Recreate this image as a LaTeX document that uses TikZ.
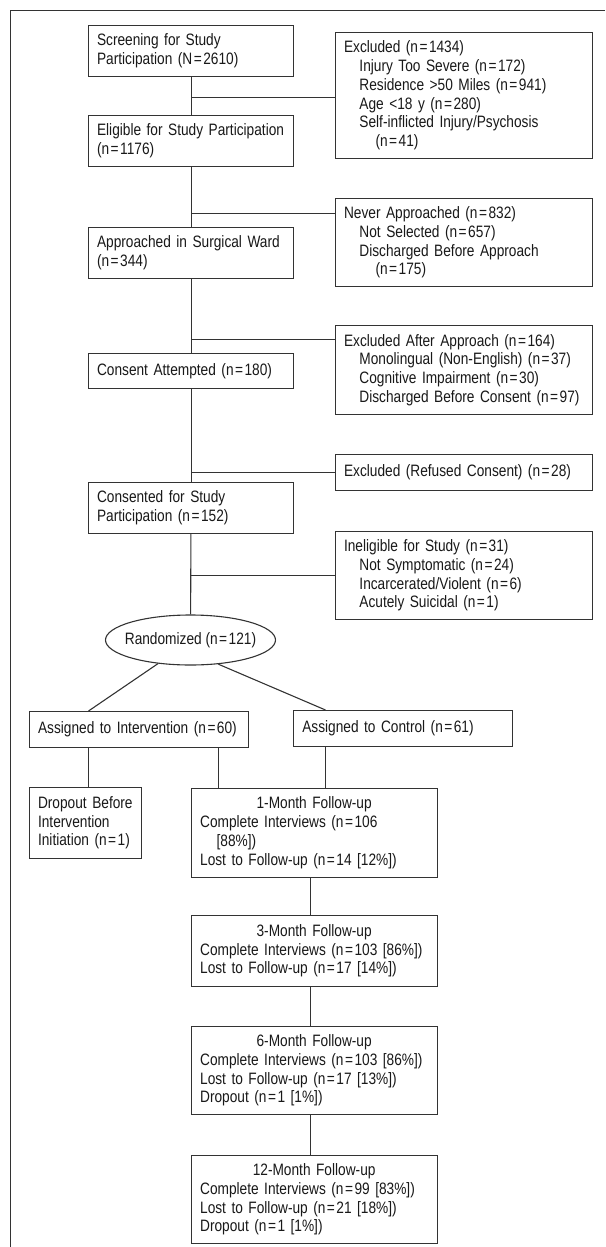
\documentclass[tikz,border=0pt]{standalone}
\usepackage{fontspec}
\setmainfont{Liberation Sans}[FakeStretch=0.83]
\usetikzlibrary{shapes.geometric}
\hyphenpenalty=10000
\exhyphenpenalty=10000
\newcommand{\nq}{n\kern0.09em=\kern0.09em}
\newcommand{\Nq}{N\kern0.09em=\kern0.09em}
\newcommand{\ind}{\hspace*{15.4pt}}
\newcommand{\indd}{\hspace*{31.5pt}}
\newcommand{\boxfont}{\fontsize{16.5}{18.75}\selectfont\hyphenpenalty=10000\exhyphenpenalty=10000}
\tikzset{
  bx/.style={draw=black!80, line width=1.1pt, fill=white, anchor=north west,
    align=left, inner xsep=8.5pt, inner ysep=0pt,
    font=\boxfont, text=black!90},
  fu/.style={bx, inner xsep=9pt, text width=228pt},
  ln/.style={draw=black!80, line width=1.1pt},
}
\begin{document}
\begin{tikzpicture}[x=1pt,y=-1pt]
\useasboundingbox (0,0) rectangle (605,1247);
\draw[ln, line width=1pt] (10.5,1247) -- (10.5,10.5) -- (605,10.5);

% left column
\node[bx, text width=188pt, minimum height=51.3pt] (screen) at (88,24.7)
  {Screening for Study\\Participation (\Nq 2610)};
\node[bx, text width=188pt, minimum height=51pt] (elig) at (88,114.7)
  {Eligible~for~Study~Participation\\(\nq 1176)};
\node[bx, text width=188pt, minimum height=51pt] (appr) at (88,227)
  {Approached~in~Surgical~Ward\\(\nq 344)};
\node[bx, text width=188pt, minimum height=35pt] (consatt) at (88,352.7)
  {Consent Attempted (\nq 180)};
\node[bx, text width=188pt, minimum height=51pt] (consented) at (88,482)
  {Consented for Study\\Participation (\nq 152)};

% right column
\node[bx, text width=240pt, minimum height=126pt] (excl1) at (335,32)
  {Excluded (\nq 1434)\\
   \ind Injury Too Severe (\nq 172)\\
   \ind Residence >50 Miles (\nq 941)\\
   \ind Age <18 y (\nq 280)\\
   \ind Self-inflicted~Injury/Psychosis\\
   \indd (\nq 41)};
\node[bx, text width=240pt, minimum height=88.3pt] (never) at (335,197.7)
  {Never Approached (\nq 832)\\
   \ind Not Selected (\nq 657)\\
   \ind Discharged~Before~Approach\\
   \indd (\nq 175)};
\node[bx, text width=240pt, minimum height=89pt] (exclapp) at (335,325)
  {Excluded~After~Approach~(\nq 164)\\
   \ind Monolingual~(Non-English)~(\nq 37)\\
   \ind Cognitive~Impairment~(\nq 30)\\
   \ind Discharged~Before~Consent~(\nq 97)};
\node[bx, text width=240pt, minimum height=35.7pt] (refused) at (335,454)
  {Excluded~(Refused~Consent)~(\nq 28)};
\node[bx, text width=240pt, minimum height=88.3pt] (inelig) at (335,530.7)
  {Ineligible for Study (\nq 31)\\
   \ind Not Symptomatic (\nq 24)\\
   \ind Incarcerated/Violent (\nq 6)\\
   \ind Acutely Suicidal (\nq 1)};

% randomization
\node[ellipse, draw=black!80, line width=1.1pt, fill=white, minimum width=170pt,
  minimum height=50pt, inner xsep=-8pt, inner ysep=0pt, font=\boxfont,
  text=black!90] (rand) at (190.5,640) {Randomized (\nq 121)};

\node[bx, text width=202pt, minimum height=36pt] (interv) at (29,711)
  {Assigned~to~Intervention~(\nq 60)};
\node[bx, inner xsep=9pt, text width=201.5pt, minimum height=35.7pt] (control) at (292.8,710)
  {Assigned to Control (\nq 61)};
\node[bx, text width=94.8pt, minimum height=71pt] (dropout) at (29,786.7)
  {Dropout~Before\\Intervention\\Initiation~(\nq 1)};

% follow-ups
\node[fu, minimum height=89pt] (m1) at (190.6,787.7)
  {\makebox[228pt][c]{1-Month Follow-up}\\
   Complete~Interviews~(\nq 106\\
   \hspace*{16.5pt}[88\%])\\
   Lost~to~Follow-up~(\nq 14~[12\%])};
\node[fu, minimum height=70.7pt] (m3) at (190.6,915)
  {\makebox[228pt][c]{3-Month Follow-up}\\
   Complete~Interviews~(\nq 103~[86\%])\\
   Lost~to~Follow-up~(\nq 17~[14\%])};
\node[fu, minimum height=88.6pt] (m6) at (190.6,1025.7)
  {\makebox[228pt][c]{6-Month Follow-up}\\
   Complete~Interviews~(\nq 103~[86\%])\\
   Lost~to~Follow-up~(\nq 17~[13\%])\\
   Dropout~(\nq 1~[1\%])};
\node[fu, minimum height=88.6pt] (m12) at (190.6,1154.7)
  {\makebox[228pt][c]{12-Month Follow-up}\\
   Complete~Interviews~(\nq 99~[83\%])\\
   Lost~to~Follow-up~(\nq 21~[18\%])\\
   Dropout~(\nq 1~[1\%])};

% branch heights and column positions
\coordinate (y1) at (0,97.5);
\coordinate (y2) at (0,213.5);
\coordinate (y3) at (0,339.5);
\coordinate (y4) at (0,472.5);
\coordinate (y5) at (0,575.5);
\coordinate (xa) at (88.5,0);
\coordinate (xb) at (218.5,0);
\coordinate (xc) at (325.5,0);
\coordinate (xd) at (310.5,0);

% trunk
\draw[ln] (screen) -- (elig);
\draw[ln] (elig) -- (appr);
\draw[ln] (appr) -- (consatt);
\draw[ln] (consatt) -- (consented);
\draw[ln] (consented) -- (rand);

% side branches
\draw[ln] (screen.south |- y1) -- (excl1.west |- y1);
\draw[ln] (screen.south |- y2) -- (never.west |- y2);
\draw[ln] (screen.south |- y3) -- (exclapp.west |- y3);
\draw[ln] (screen.south |- y4) -- (refused.west |- y4);
\draw[ln] (screen.south |- y5) -- (inelig.west |- y5);

% arms
\draw[ln] (rand.216) -- (interv.north -| xa);
\draw[ln] (rand.319) -- (control.north -| xc);
\draw[ln] (interv.south -| xa) -- (dropout.north -| xa);
\draw[ln] (interv.south -| xb) -- (m1.north -| xb);
\draw[ln] (control.south -| xc) -- (m1.north -| xc);
\draw[ln] (m1.south -| xd) -- (m3.north -| xd);
\draw[ln] (m3.south -| xd) -- (m6.north -| xd);
\draw[ln] (m6.south -| xd) -- (m12.north -| xd);
\end{tikzpicture}
\end{document}
